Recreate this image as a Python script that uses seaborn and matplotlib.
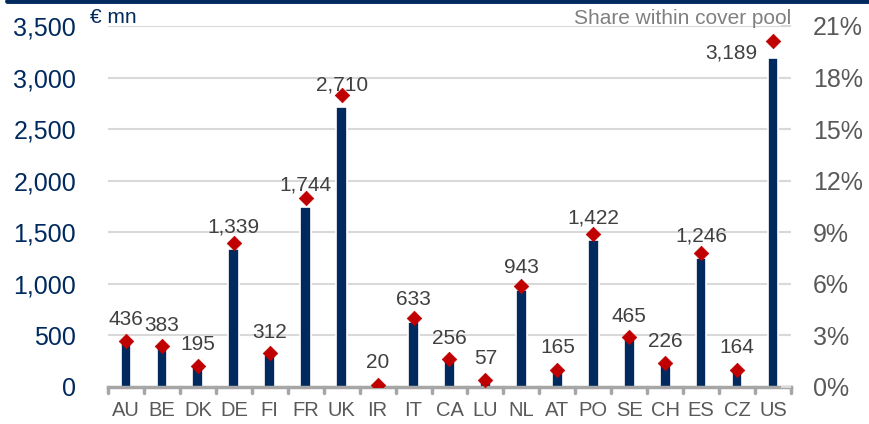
import numpy as np
import pandas as pd
import seaborn as sns
import matplotlib.pyplot as plt
from matplotlib.lines import Line2D

countries = ["AU", "BE", "DK", "DE", "FI", "FR", "UK", "IR", "IT", "CA",
             "LU", "NL", "AT", "PO", "SE", "CH", "ES", "CZ", "US"]
volume = [436, 383, 195, 1339, 312, 1744, 2710, 20, 633, 256,
          57, 943, 165, 1422, 465, 226, 1246, 164, 3189]
share = [2.7, 2.4, 1.2, 8.4, 2.0, 11.0, 17.0, 0.1, 4.0, 1.6,
         0.4, 5.9, 1.0, 8.9, 2.9, 1.4, 7.8, 1.0, 20.1]

navy = "#002A5E"
red = "#C00000"
grey_txt = "#595959"

sns.set_theme(style="white")
plt.rcParams["font.family"] = ["Liberation Sans", "DejaVu Sans"]

df = pd.DataFrame({"country": countries, "volume": volume, "share": share})
df["pos"] = np.arange(len(df))

fig = plt.figure(figsize=(8.69, 4.24), dpi=100)
ax = fig.add_axes([0.1243, 0.0873, 0.7859, 0.8514])

sns.barplot(data=df, x="country", y="volume", color=navy, saturation=1,
            width=0.3, edgecolor="white", linewidth=1.2, ax=ax, zorder=2)
ax.set_ylim(0, 3500)
ax.set_xlim(-0.5, len(df) - 0.5)
ax.set_yticks(range(0, 3501, 500))
ax.set_yticklabels([f"{v:,}" for v in range(0, 3501, 500)])
ax.tick_params(axis="y", length=0, pad=23, labelsize=18, labelcolor=navy)
ax.tick_params(axis="x", length=0, pad=10, labelsize=14.5, labelcolor=grey_txt)
ax.set_xlabel("")
ax.set_ylabel("")
for v in range(500, 3501, 500):
    ax.axhline(v, color="#D9D9D9", lw=1.5, zorder=0)
for s in ["left", "right", "top"]:
    ax.spines[s].set_visible(False)
ax.spines["bottom"].set_color("#A6A6A6")
ax.spines["bottom"].set_linewidth(2.5)
ax.spines["bottom"].set_zorder(3)
# separator ticks between categories
for b in np.arange(-0.5, len(df), 1.0):
    ax.plot([b, b], [0, -0.016], transform=ax.get_xaxis_transform(),
            color="#A6A6A6", lw=2.5, clip_on=False, zorder=3)

ax2 = ax.twinx()
sns.scatterplot(data=df, x="pos", y="share", marker="D", color=red, s=55,
                edgecolor=red, linewidth=0.5, ax=ax2, zorder=4)
ax2.set_ylim(0, 21)
ax2.set_yticks(range(0, 22, 3))
ax2.set_yticklabels([f"{v}%" for v in range(0, 22, 3)])
ax2.tick_params(axis="y", direction="in", length=7, width=1.5, color="#D9D9D9",
                pad=16, labelsize=18, labelcolor=grey_txt)
ax2.set_ylabel("")
ax2.set_xlabel("")
for s in ["left", "right", "top", "bottom"]:
    ax2.spines[s].set_visible(False)
ax2.set_xlim(-0.5, len(df) - 0.5)

# data labels
for i, v in enumerate(volume):
    if countries[i] == "US":
        ax.annotate(f"{v:,}", (i, v), xytext=(-11, 0), textcoords="offset points",
                    ha="right", va="baseline", fontsize=15, color="#404040", zorder=5)
    else:
        ax.annotate(f"{v:,}", (i, v), xytext=(0, 12), textcoords="offset points",
                    ha="center", va="baseline", fontsize=15, color="#404040", zorder=5)

fig.text(0.1036, 0.945, "€ mn", fontsize=15, color=navy, ha="left", va="baseline")
fig.text(0.9102, 0.943, "Share within cover pool", fontsize=15, color="#808080",
         ha="right", va="baseline")
fig.add_artist(Line2D([0.008, 1.0], [0.997, 0.997], color="#002A5E", lw=3.5,
                      transform=fig.transFigure))

fig.savefig("out.png", dpi=100)
